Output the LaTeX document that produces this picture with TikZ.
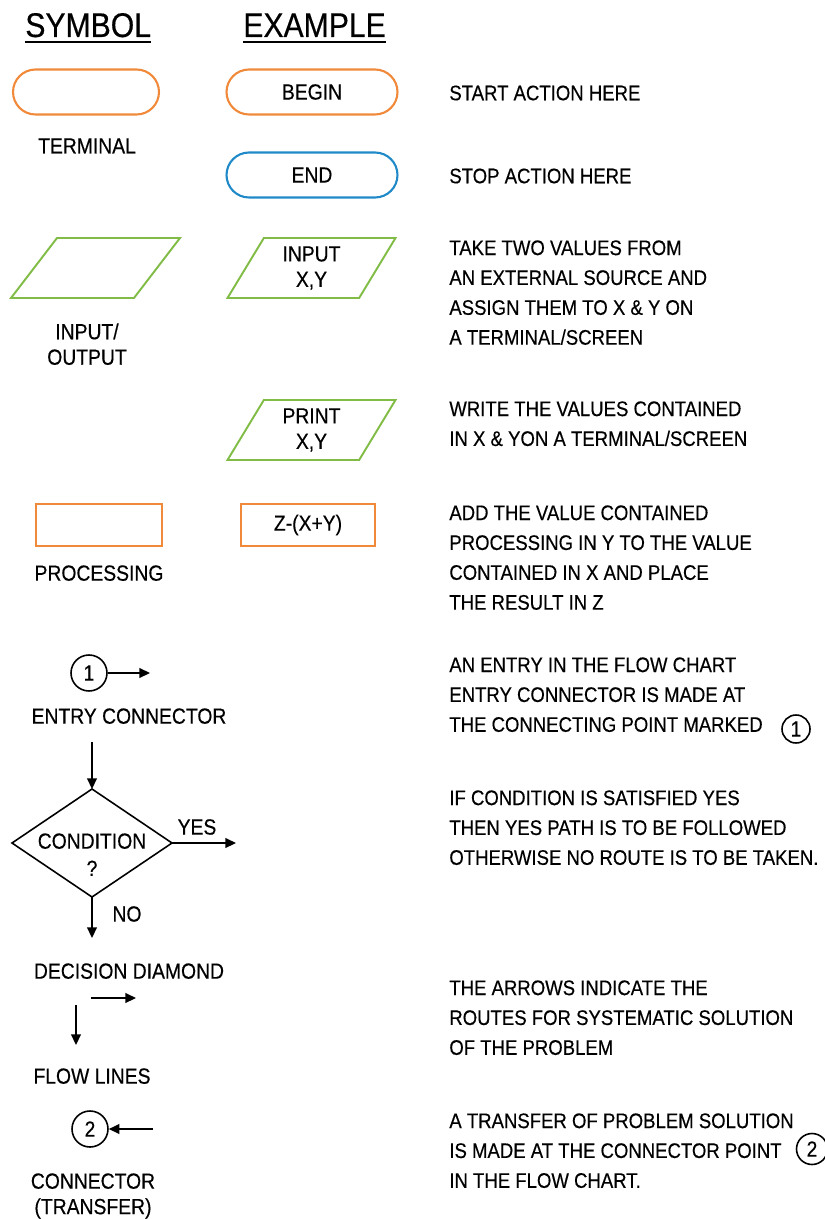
\documentclass[tikz,border=0pt]{standalone}
\usepackage{fontspec}
\setmainfont{Liberation Sans}[FakeStretch=0.88, FakeBold=0.4]
\usetikzlibrary{shapes.geometric,shapes.misc,arrows.meta}

\definecolor{termorange}{RGB}{240,138,58}
\definecolor{iogreen}{RGB}{128,188,70}
\definecolor{endblue}{RGB}{32,138,200}

\newcommand\headfont{\fontsize{19.5}{21}\selectfont}
\newcommand\lblfont{\fontsize{12.5}{14.5}\selectfont}
\newcommand\descfont{\fontsize{12}{17}\selectfont}

\tikzset{
	terminal/.style={draw=termorange, rounded rectangle, line width=1.2pt, minimum height=0.9cm, inner sep=0pt},
	iobox/.style={draw=iogreen, trapezium, trapezium left angle=63, trapezium right angle=117,
		trapezium stretches=true, line width=1.1pt, minimum width=3.38cm, minimum height=1.2cm, align=center, inner sep=0pt},
	procbox/.style={draw=termorange, rectangle, line width=1.2pt, minimum height=0.84cm, inner sep=0pt},
	conn/.style={draw, circle, line width=0.9pt, minimum size=0.72cm, inner sep=0pt},
	flow/.style={line width=0.9pt, -{Triangle[length=6pt, width=5.5pt]}},
	lbl/.style={align=center, inner sep=0pt, anchor=north},
	desc/.style={font=\descfont, align=left, inner sep=0pt, anchor=north west},
}

\begin{document}
\begin{tikzpicture}[x=0.02cm, y=-0.02cm, font=\lblfont]
	\useasboundingbox (0,0) rectangle (824,1219);

	% headings
	\node[font=\headfont, inner sep=0pt, anchor=base west] (hsym) at (25,37) {SYMBOL};
	\node[font=\headfont, inner sep=0pt, anchor=base west] (hex) at (243,37) {EXAMPLE};
	\draw[line width=1.4pt] ([yshift=-3pt]hsym.base west) -- ([yshift=-3pt]hsym.base east);
	\draw[line width=1.4pt] ([yshift=-3pt]hex.base west) -- ([yshift=-3pt]hex.base east);

	% terminal
	\node[terminal, minimum width=2.92cm] (tsym) at (86,92) {};
	\node[lbl] (tlbl) at (87,138) {TERMINAL};
	\node[terminal, minimum width=3.42cm] (tbegin) at (312,92) {BEGIN};
	\node[terminal, draw=endblue, minimum width=3.42cm] (tend) at (312,175) {END};
	\node[desc, anchor=west] (dbegin) at (449,93) {START ACTION HERE};
	\node[desc, anchor=west] (dend) at (449,176) {STOP ACTION HERE};

	% input / output
	\node[iobox] (iosym) at (95.5,268) {\phantom{X}};
	\node[lbl] (iolbl) at (87,323) {INPUT/\\OUTPUT};
	\node[iobox] (ioin) at (311.5,268) {INPUT\\X,Y};
	\node[iobox] (ioout) at (311.5,430) {PRINT\\X,Y};
	\node[desc] (dio) at (449,240) {TAKE TWO VALUES FROM\\AN EXTERNAL SOURCE AND\\ASSIGN THEM TO X \& Y ON\\A TERMINAL/SCREEN};
	\node[desc] (dprint) at (449,401) {WRITE THE VALUES CONTAINED\\IN X \& YON A TERMINAL/SCREEN};

	% processing
	\node[procbox, minimum width=2.52cm] (psym) at (99,525) {};
	\node[lbl] (plbl) at (99,565) {PROCESSING};
	\node[procbox, minimum width=2.68cm] (pex) at (308,525) {Z-(X+Y)};
	\node[desc] (dproc) at (449,505) {ADD THE VALUE CONTAINED\\PROCESSING IN Y TO THE VALUE\\CONTAINED IN X AND PLACE\\THE RESULT IN Z};

	% entry connector
	\node[conn] (c1) at (89,673) {1};
	\coordinate (c1tip) at (150,673);
	\draw[flow] (c1) -- (c1tip);
	\node[lbl] (c1lbl) at (129,708) {ENTRY CONNECTOR};
	\node[desc] (dentry) at (449,657) {AN ENTRY IN THE FLOW CHART\\ENTRY CONNECTOR IS MADE AT\\THE CONNECTING POINT MARKED};
	\node[conn, minimum size=0.56cm] (c1txt) at (796,729) {1};

	% decision diamond
	\coordinate (dtop) at (92,789);
	\coordinate (dright) at (172,843);
	\coordinate (dbot) at (92,897);
	\coordinate (dleft) at (12,843);
	\draw[line width=0.9pt] (dtop) -- (dright) -- (dbot) -- (dleft) -- cycle;
	\node[lbl, font={\fontsize{12.5}{15.5}\selectfont}] (cond) at (92,833) {CONDITION\\?};
	\coordinate (din) at (92,742);
	\coordinate (dyes) at (236,843);
	\coordinate (dno) at (92,938);
	\draw[flow] (din) -- (dtop);
	\draw[flow] (dright) -- (dyes);
	\draw[flow] (dbot) -- (dno);
	\node[inner sep=0pt] (yes) at (197,827) {YES};
	\node[inner sep=0pt] (no) at (127,914) {NO};
	\node[lbl] (declbl) at (129,963) {DECISION DIAMOND};
	\node[desc] (ddec) at (449,790) {IF CONDITION IS SATISFIED YES\\THEN YES PATH IS TO BE FOLLOWED\\OTHERWISE NO ROUTE IS TO BE TAKEN.};

	% flow lines
	\coordinate (fh0) at (91,998);
	\coordinate (fh1) at (136,998);
	\coordinate (fv0) at (76,1005);
	\coordinate (fv1) at (76,1045);
	\draw[flow] (fh0) -- (fh1);
	\draw[flow] (fv0) -- (fv1);
	\node[lbl] (flbl) at (92,1068) {FLOW LINES};
	\node[desc] (dflow) at (449,980) {THE ARROWS INDICATE THE\\ROUTES FOR SYSTEMATIC SOLUTION\\OF THE PROBLEM};

	% transfer connector
	\node[conn] (c2) at (90,1129) {2};
	\coordinate (c2tail) at (153,1129);
	\draw[flow] (c2tail) -- (c2);
	\node[lbl] (c2lbl) at (93,1173) {CONNECTOR\\(TRANSFER)};
	\node[desc] (dtrans) at (449,1113) {A TRANSFER OF PROBLEM SOLUTION\\IS MADE AT THE CONNECTOR POINT\\IN THE FLOW CHART.};
	\node[conn, minimum size=0.62cm] (c2txt) at (812,1149) {2};
\end{tikzpicture}
\end{document}
